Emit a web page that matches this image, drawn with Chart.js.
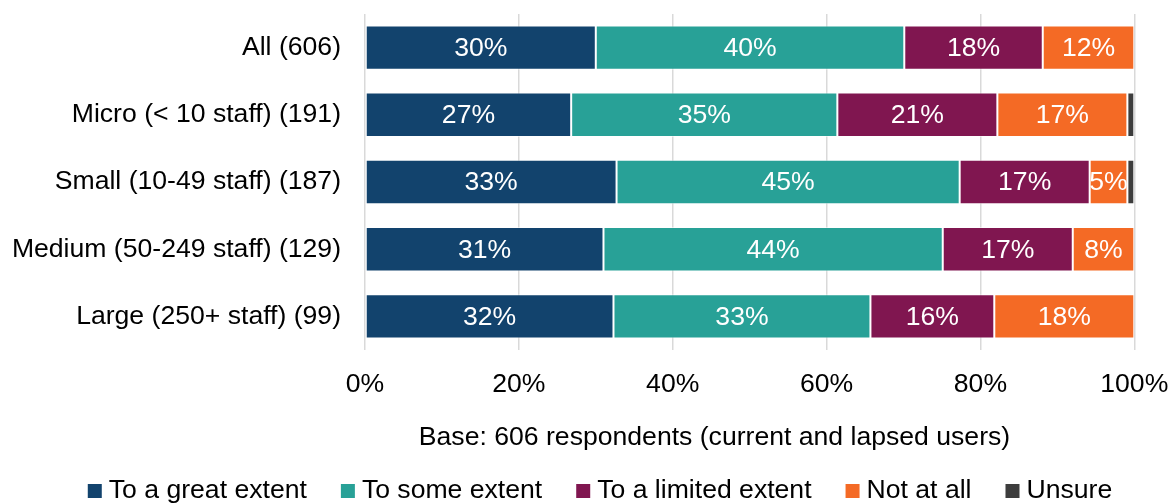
<!DOCTYPE html>
<html>
<head>
<meta charset="utf-8">
<script src="https://cdn.jsdelivr.net/npm/chart.js@4/dist/chart.umd.min.js"></script>
<style>
  html, body { margin: 0; padding: 0; background: #ffffff; }
  #wrap { width: 1173px; height: 504px; position: relative; }
</style>
</head>
<body>
<div id="wrap"><canvas id="c"></canvas></div>
<script>
// ---- Data ----
const categories = [
  'All (606)',
  'Micro (< 10 staff) (191)',
  'Small (10-49 staff) (187)',
  'Medium (50-249 staff) (129)',
  'Large (250+ staff) (99)'
];
const seriesNames = ['To a great extent', 'To some extent', 'To a limited extent', 'Not at all', 'Unsure'];
const greatExtent   = [30.0, 26.8, 32.7, 31.0, 32.3];
const someExtent    = [40.1, 34.6, 44.6, 44.1, 33.4];
const limitedExtent = [18.0, 20.8, 16.9, 16.9, 16.1];
const notAtAll      = [11.9, 16.9, 4.9, 8.0, 18.2];
const unsure        = [0, 0.9, 0.9, 0, 0];
const xTicks = [0, 20, 40, 60, 80, 100];
const footnote = 'Base: 606 respondents (current and lapsed users)';

const colors = ['#12436D', '#28A197', '#801650', '#F46A25', '#3D3D3D'];
const FONT = '"Liberation Sans", Arial, Helvetica, sans-serif';
const FS = 26.6;

Chart.defaults.font.family = FONT;
Chart.defaults.color = '#000000';

const seriesData = [greatExtent, someExtent, limitedExtent, notAtAll, unsure];

const valueLabels = {
  id: 'valueLabels',
  afterDatasetsDraw(chart) {
    const ctx = chart.ctx;
    ctx.save();
    ctx.font = FS + 'px ' + FONT;
    ctx.fillStyle = '#ffffff';
    ctx.textAlign = 'center';
    ctx.textBaseline = 'middle';
    chart.data.datasets.forEach((ds, di) => {
      const meta = chart.getDatasetMeta(di);
      meta.data.forEach((bar, i) => {
        const v = ds.data[i];
        if (v < 3) return;
        const cx = (bar.x + bar.base) / 2;
        ctx.fillText(Math.round(v) + '%', cx, bar.y + 1);
      });
    });
    ctx.restore();
  }
};

const extras = {
  id: 'extras',
  afterDraw(chart) {
    const ctx = chart.ctx;
    ctx.save();
    ctx.font = FS + 'px ' + FONT;
    ctx.fillStyle = '#000000';
    ctx.textBaseline = 'middle';
    // footnote (axis note)
    ctx.textAlign = 'center';
    ctx.fillText(footnote, 714.5, 438);
    // legend
    ctx.textAlign = 'left';
    const box = 14, gapBox = 7, gapItem = 34;
    const widths = seriesNames.map(n => ctx.measureText(n).width);
    let total = widths.reduce((a, w) => a + box + gapBox + w, 0) + gapItem * (seriesNames.length - 1);
    let x = 600 - total / 2;
    const cy = 491;
    seriesNames.forEach((n, i) => {
      ctx.fillStyle = colors[i];
      ctx.fillRect(x, cy - box / 2, box, box);
      ctx.fillStyle = '#000000';
      ctx.fillText(n, x + box + gapBox, cy);
      x += box + gapBox + widths[i] + gapItem;
    });
    ctx.restore();
  }
};

new Chart(document.getElementById('c'), {
  type: 'bar',
  data: {
    labels: categories,
    datasets: seriesNames.map((name, i) => ({
      label: name,
      data: seriesData[i],
      backgroundColor: colors[i],
      borderColor: 'rgba(255,255,255,0.55)',
      borderWidth: 1,
      borderSkipped: false,
      barPercentage: 0.66,
      categoryPercentage: 1.0
    }))
  },
  options: {
    indexAxis: 'y',
    responsive: true,
    maintainAspectRatio: false,
    animation: false,
    layout: { padding: { top: 14, right: 38.7, bottom: 0, left: 0 } },
    plugins: {
      legend: { display: false },
      tooltip: { enabled: false }
    },
    scales: {
      x: {
        stacked: true,
        min: 0,
        max: 100,
        afterBuildTicks(scale) { scale.ticks = xTicks.map(v => ({ value: v })); },
        afterFit(scale) {
          scale.height = 154;
          scale.paddingLeft = 0; scale.paddingRight = 0;
          scale.paddingTop = 0; scale.paddingBottom = 0;
        },
        grid: { color: '#D9D9D9', lineWidth: 1.5, drawTicks: false },
        border: { display: false },
        ticks: {
          padding: 19,
          font: { size: FS },
          color: '#000000',
          callback: v => v + '%'
        }
      },
      y: {
        stacked: true,
        afterFit(scale) {
          scale.width = 365;
          scale.paddingLeft = 0; scale.paddingRight = 0;
          scale.paddingTop = 0; scale.paddingBottom = 0;
        },
        grid: { display: false, drawTicks: false },
        border: { display: false },
        ticks: {
          padding: 24,
          font: { size: FS },
          color: '#000000'
        }
      }
    }
  },
  plugins: [valueLabels, extras]
});
</script>
</body>
</html>
